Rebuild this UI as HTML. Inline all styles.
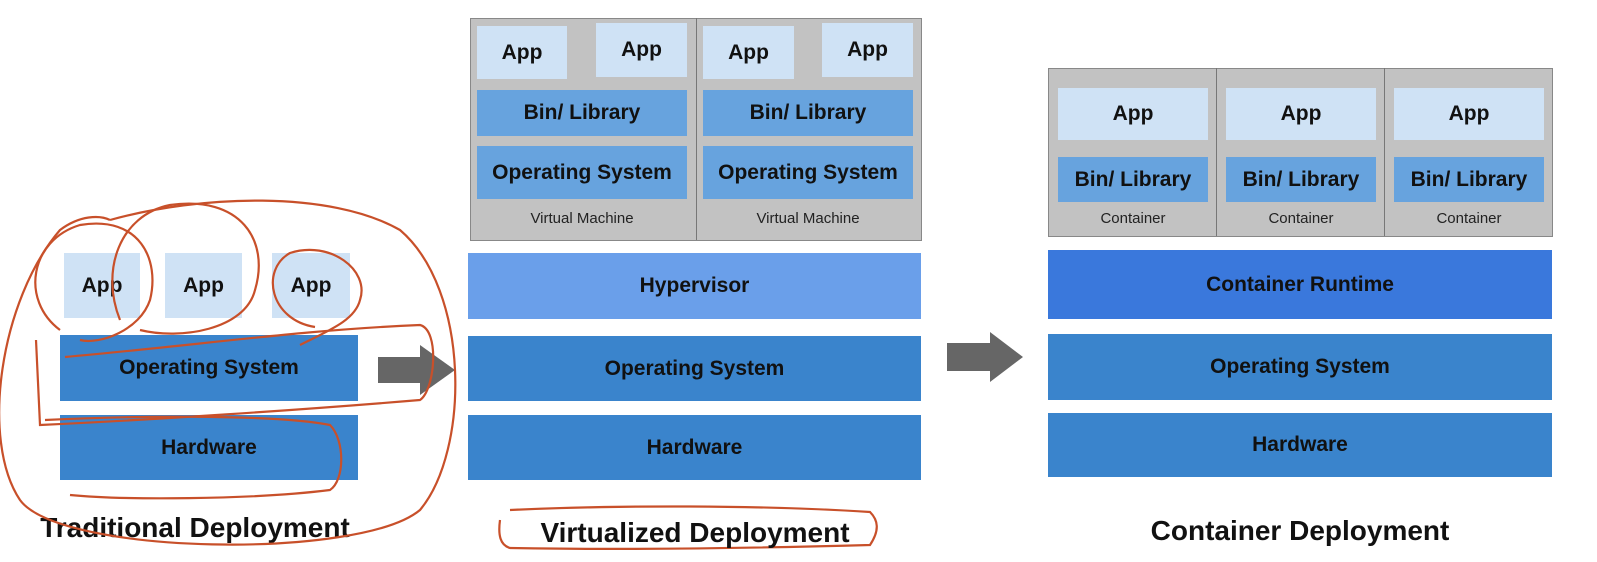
<!DOCTYPE html>
<html><head><style>
body{margin:0;width:1597px;height:562px;background:#fff;position:relative;overflow:hidden;font-family:"Liberation Sans",sans-serif}
.b{position:absolute;display:flex;align-items:center;justify-content:center;font-weight:bold;font-size:21px;color:#111}
.app{background:#cfe2f5}
.bin{background:#67a3de}
.os{background:#3a84cc}
.g{position:absolute;background:#c2c2c2;border:1px solid #888}
.s{position:absolute;font-size:15px;color:#222;text-align:center}
.t{position:absolute;font-weight:bold;font-size:28px;color:#111;text-align:center;width:500px}
</style></head><body>
<!-- Traditional -->
<div class="b app" style="left:64px;top:253px;width:76px;height:65px">App</div>
<div class="b app" style="left:165px;top:253px;width:77px;height:65px">App</div>
<div class="b app" style="left:272px;top:253px;width:78px;height:65px">App</div>
<div class="b os" style="left:60px;top:335px;width:298px;height:66px">Operating System</div>
<div class="b os" style="left:60px;top:415px;width:298px;height:65px">Hardware</div>
<div class="t" style="left:-55px;top:512px">Traditional Deployment</div>
<svg style="position:absolute;left:0;top:0" width="1597" height="562">
<polygon points="378,357 420,357 420,345 455,370 420,395 420,383 378,383" fill="#666"/>
<polygon points="947,343 990,343 990,332 1023,357 990,382 990,371 947,371" fill="#666"/>
<g fill="none" stroke="#c8502a" stroke-width="2.2">
<path d="M110,220 C200,195 330,190 400,230 C470,290 470,450 420,510 C360,560 60,555 20,500 C-20,440 0,300 60,230 C80,215 100,215 110,220"/>
<path d="M60,330 C20,300 30,240 80,225 C140,215 160,260 150,300 C140,330 100,345 80,340"/>
<path d="M120,320 C100,270 120,215 170,205 C240,195 270,240 255,290 C245,330 180,340 140,330"/>
<path d="M315,327 C270,320 260,270 290,253 C330,240 370,270 360,300 C355,320 330,330 300,345"/>
<path d="M65,357 C200,345 300,330 420,325 C440,330 435,390 420,400 C300,410 150,420 40,425 L36,340"/>
<path d="M45,420 C150,415 280,415 330,425 C345,440 345,480 330,490 C250,500 120,500 70,495"/>
<path d="M500,520 C498,535 500,545 510,548 C620,550 760,548 870,545 C880,530 878,520 870,512 C760,505 620,505 510,510"/>
</g>
</svg>
<!-- Virtualized -->
<div class="g" style="left:470px;top:18px;width:450px;height:221px"></div>
<div style="position:absolute;left:696px;top:18px;width:1px;height:222px;background:#777"></div>
<div class="b app" style="left:477px;top:26px;width:90px;height:53px">App</div>
<div class="b app" style="left:596px;top:23px;width:91px;height:54px">App</div>
<div class="b app" style="left:703px;top:26px;width:91px;height:53px">App</div>
<div class="b app" style="left:822px;top:23px;width:91px;height:54px">App</div>
<div class="b bin" style="left:477px;top:90px;width:210px;height:46px">Bin/ Library</div>
<div class="b bin" style="left:703px;top:90px;width:210px;height:46px">Bin/ Library</div>
<div class="b bin" style="left:477px;top:146px;width:210px;height:53px">Operating System</div>
<div class="b bin" style="left:703px;top:146px;width:210px;height:53px">Operating System</div>
<div class="s" style="left:477px;top:210px;width:210px">Virtual Machine</div>
<div class="s" style="left:703px;top:210px;width:210px">Virtual Machine</div>
<div class="b" style="left:468px;top:253px;width:453px;height:66px;background:#6a9fea">Hypervisor</div>
<div class="b os" style="left:468px;top:336px;width:453px;height:65px">Operating System</div>
<div class="b os" style="left:468px;top:415px;width:453px;height:65px">Hardware</div>
<div class="t" style="left:445px;top:517px">Virtualized Deployment</div>
<!-- Container -->
<div class="g" style="left:1048px;top:68px;width:503px;height:167px"></div>
<div style="position:absolute;left:1216px;top:68px;width:1px;height:168px;background:#777"></div>
<div style="position:absolute;left:1384px;top:68px;width:1px;height:168px;background:#777"></div>
<div class="b app" style="left:1058px;top:88px;width:150px;height:52px">App</div>
<div class="b app" style="left:1226px;top:88px;width:150px;height:52px">App</div>
<div class="b app" style="left:1394px;top:88px;width:150px;height:52px">App</div>
<div class="b bin" style="left:1058px;top:157px;width:150px;height:45px">Bin/ Library</div>
<div class="b bin" style="left:1226px;top:157px;width:150px;height:45px">Bin/ Library</div>
<div class="b bin" style="left:1394px;top:157px;width:150px;height:45px">Bin/ Library</div>
<div class="s" style="left:1058px;top:210px;width:150px">Container</div>
<div class="s" style="left:1226px;top:210px;width:150px">Container</div>
<div class="s" style="left:1394px;top:210px;width:150px">Container</div>
<div class="b" style="left:1048px;top:250px;width:504px;height:69px;background:#3a78dc">Container Runtime</div>
<div class="b os" style="left:1048px;top:334px;width:504px;height:66px">Operating System</div>
<div class="b os" style="left:1048px;top:413px;width:504px;height:64px">Hardware</div>
<div class="t" style="left:1050px;top:515px">Container Deployment</div>
</body></html>
